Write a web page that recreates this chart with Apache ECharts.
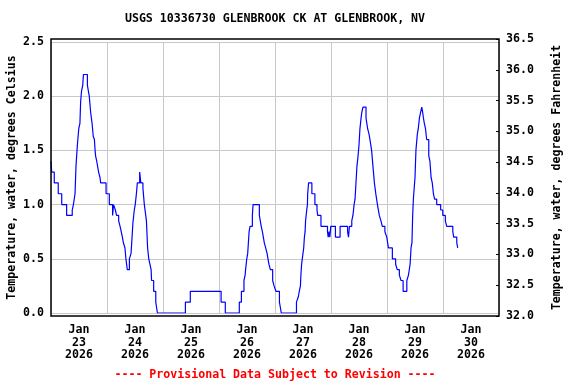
<!DOCTYPE html>
<html><head><meta charset="utf-8">
<script src="https://cdn.jsdelivr.net/npm/echarts@6/dist/echarts.min.js"></script>
<style>html,body{margin:0;padding:0;background:#fff}#c{width:576px;height:384px}</style>
</head><body><div id="c"></div>
<script>
const chartTitle = 'USGS 10336730 GLENBROOK CK AT GLENBROOK, NV';
const footerText = '---- Provisional Data Subject to Revision ----';
const leftAxisName = 'Temperature, water, degrees Celsius';
const rightAxisName = 'Temperature, water, degrees Fahrenheit';
const dayLabels = ['Jan\n23\n2026','Jan\n24\n2026','Jan\n25\n2026','Jan\n26\n2026','Jan\n27\n2026','Jan\n28\n2026','Jan\n29\n2026','Jan\n30\n2026'];
const celsiusRange = [0, 2.5];
const fahrenheitRange = [32, 36.5];
// [hours since 2026-01-23 00:00, water temperature degC] at each step change
const tempSteps = [
[0,1.4],[0.3,1.3],[1.4,1.2],[3.1,1.1],[4.6,1.0],[6.7,0.9],[9.1,0.95],[9.6,1.0],[10.3,1.1],[10.7,1.35],
[11.3,1.55],[11.9,1.7],[12.4,1.75],[12.7,1.95],[13.1,2.05],[13.6,2.1],[13.9,2.2],[15.6,2.1],[16.4,2.0],[17.0,1.85],
[17.6,1.75],[18.1,1.63],[18.6,1.6],[18.9,1.5],[19.1,1.45],[19.6,1.4],[20.4,1.3],[21.0,1.25],[21.3,1.2],[23.6,1.1],
[25.0,1.0],[26.4,0.9],[26.8,1.0],[27.6,0.95],[28.1,0.9],[29.0,0.85],[29.6,0.8],[30.1,0.75],[30.6,0.7],[31.0,0.65],
[31.7,0.6],[32.1,0.5],[32.7,0.4],[33.6,0.5],[34.3,0.55],[34.6,0.65],[35.1,0.83],[35.7,0.95],[36.1,1.0],[36.6,1.1],
[37.0,1.2],[38.0,1.3],[38.5,1.2],[39.4,1.15],[40.0,1.0],[40.6,0.9],[40.9,0.85],[41.1,0.75],[41.4,0.6],[41.9,0.5],
[42.4,0.45],[42.9,0.4],[43.1,0.3],[44.0,0.2],[44.9,0.1],[45.6,0],[57.6,0.1],[59.7,0.2],[72.9,0.1],[74.7,0],
[80.7,0.1],[81.6,0.2],[82.7,0.3],[83.2,0.35],[83.4,0.4],[83.9,0.5],[84.3,0.55],[84.6,0.65],[84.9,0.75],[85.3,0.8],
[86.3,0.9],[86.6,1.0],[89.3,0.9],[89.7,0.85],[90.1,0.8],[90.6,0.75],[91.0,0.7],[91.4,0.65],[92.0,0.6],[92.6,0.55],
[93.0,0.5],[93.4,0.45],[94.0,0.4],[95.0,0.3],[95.6,0.25],[96.4,0.2],[97.9,0.1],[98.7,0],[105.2,0.1],[106.0,0.15],
[106.4,0.2],[106.9,0.25],[107.1,0.35],[107.4,0.45],[107.7,0.5],[108.3,0.6],[108.6,0.7],[108.9,0.75],[109.1,0.85],[109.6,0.95],
[109.9,1.0],[110.0,1.1],[110.4,1.2],[111.8,1.1],[113.1,1.0],[114.0,0.95],[114.3,0.9],[115.7,0.8],[118.5,0.75],[118.8,0.7],
[119.2,0.75],[119.5,0.7],[119.9,0.8],[121.9,0.7],[123.9,0.8],[127.1,0.75],[127.5,0.7],[127.9,0.8],[128.9,0.85],[129.4,0.9],
[129.9,1.0],[130.3,1.05],[130.7,1.2],[131.1,1.35],[131.6,1.45],[132.0,1.55],[132.4,1.7],[132.9,1.8],[133.2,1.85],[133.7,1.9],
[135.0,1.8],[135.7,1.7],[136.3,1.65],[136.7,1.6],[137.4,1.5],[138.2,1.3],[138.6,1.2],[139.2,1.1],[139.9,1.0],[140.7,0.9],
[141.4,0.85],[142.0,0.8],[143.1,0.75],[143.9,0.7],[144.6,0.6],[146.3,0.5],[147.7,0.45],[148.4,0.4],[149.3,0.35],[150.0,0.3],
[150.9,0.2],[152.5,0.3],[153.2,0.35],[153.9,0.45],[154.3,0.6],[154.7,0.65],[155.0,0.9],[155.3,1.05],[156.0,1.25],[156.4,1.5],
[157.0,1.65],[157.4,1.7],[157.9,1.8],[158.4,1.85],[158.9,1.9],[159.3,1.85],[159.6,1.8],[160.0,1.75],[160.5,1.7],[161.0,1.6],
[161.9,1.45],[162.4,1.4],[162.9,1.25],[163.4,1.2],[163.9,1.1],[164.4,1.05],[165.3,1.0],[167.0,0.95],[167.9,0.9],[169.0,0.85],
[169.6,0.8],[172.2,0.75],[172.6,0.7],[173.9,0.65],[174.3,0.6]
];
const totalHours = 192;

const FONT = "'DejaVu Sans Mono', 'Liberation Mono', monospace";
const txt = {fontFamily: FONT, fontWeight: 'bold', fontSize: 11.6, color: '#000'};
const gridColor = '#c8c8c8';

const chart = echarts.init(document.getElementById('c'), null, {renderer: 'canvas'});
chart.setOption({
  animation: false,
  backgroundColor: '#fff',
  grid: [
    {left: 51, right: 77, top: 42, bottom: 71, containLabel: false, outerBoundsMode: 'none'},
    {left: 51, right: 77, top: 39, bottom: 68, containLabel: false, outerBoundsMode: 'none',
     show: true, borderColor: '#000', borderWidth: 1.5, backgroundColor: 'transparent', z: 5}
  ],
  xAxis: [
    {type: 'value', gridIndex: 0, min: 0, max: totalHours, interval: 24,
     axisLine: {show: false}, axisTick: {show: false}, axisLabel: {show: false},
     splitLine: {show: true, lineStyle: {color: gridColor, width: 1}}},
    {type: 'category', gridIndex: 1, data: dayLabels, boundaryGap: true,
     axisLine: {show: false}, axisTick: {show: false}, splitLine: {show: false},
     axisLabel: Object.assign({interval: 0, margin: 8, lineHeight: 12.5}, txt)}
  ],
  yAxis: [
    {type: 'value', gridIndex: 0, position: 'left', min: celsiusRange[0], max: celsiusRange[1], interval: 0.5,
     axisLine: {show: false}, axisTick: {show: false},
     axisLabel: Object.assign({margin: 7, formatter: v => v.toFixed(1)}, txt),
     splitLine: {show: true, lineStyle: {color: gridColor, width: 1}},
     name: leftAxisName, nameLocation: 'middle', nameRotate: 90, nameGap: 33, nameMoveOverlap: false,
     nameTextStyle: txt},
    {type: 'value', gridIndex: 1, position: 'right', min: fahrenheitRange[0], max: fahrenheitRange[1], interval: 0.5,
     axisLine: {show: false},
     axisTick: {show: true, inside: true, length: 3, lineStyle: {color: '#000', width: 1}},
     axisLabel: Object.assign({margin: 7, formatter: v => v.toFixed(1)}, txt),
     splitLine: {show: false},
     name: rightAxisName, nameLocation: 'middle', nameRotate: 90, nameGap: 52, nameMoveOverlap: false,
     nameTextStyle: txt}
  ],
  graphic: [
    {type: 'text', x: 275, y: 19, style: {text: chartTitle, textAlign: 'center', textVerticalAlign: 'middle', fill: '#000', font: "bold 11.6px " + FONT}},
    {type: 'text', x: 275, y: 375, style: {text: footerText, textAlign: 'center', textVerticalAlign: 'middle', fill: '#ff0000', font: "bold 11.6px " + FONT}}
  ],
  series: [
    {type: 'line', xAxisIndex: 0, yAxisIndex: 0, data: tempSteps, step: 'end',
     showSymbol: false, symbol: 'none', lineStyle: {color: '#0000ff', width: 1.2}, z: 3}
  ]
});
</script></body></html>
